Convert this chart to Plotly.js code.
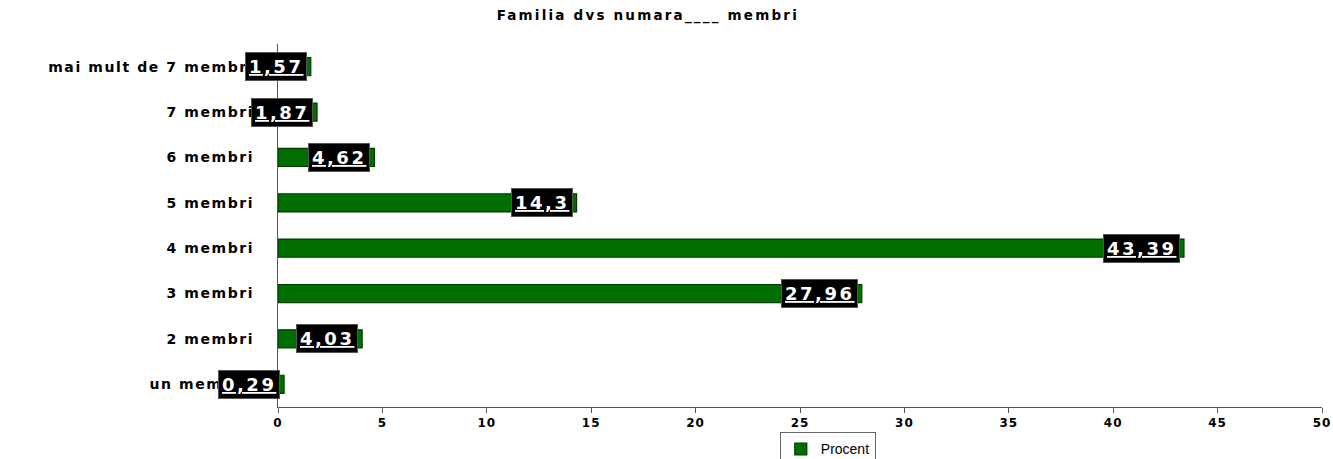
<!DOCTYPE html>
<html>
<head>
<meta charset="utf-8">
<script src="https://cdn.plot.ly/plotly-3.0.1.min.js"></script>
<style>
html,body{margin:0;padding:0;background:#fff;}
#chart{width:1333px;height:459px;}
text.gtitle{letter-spacing:2.2px;}
.ytick text{letter-spacing:1.6px;}
.xtick text{letter-spacing:1px;}
text.annotation-text{letter-spacing:2.5px;}
</style>
</head>
<body>
<div id="chart"></div>
<script>
var categories = ["un membru", "2 membri", "3 membri", "4 membri", "5 membri", "6 membri", "7 membri", "mai mult de 7 membri"];
var procent = [0.29, 4.03, 27.96, 43.39, 14.3, 4.62, 1.87, 1.57];
var valueLabels = ["0,29", "4,03", "27,96", "43,39", "14,3", "4,62", "1,87", "1,57"];
var xTicks = [0, 5, 10, 15, 20, 25, 30, 35, 40, 45, 50];

var FONT = "DejaVu Sans, Verdana, sans-serif";

var trace = {
  type: "bar",
  orientation: "h",
  name: "Procent",
  y: categories,
  x: procent,
  marker: {color: "#006f00", line: {color: "#003a00", width: 1.2}},
  hoverinfo: "x+y"
};

var annotations = categories.map(function (c, i) {
  return {
    x: procent[i], y: c, xref: "x", yref: "y",
    xanchor: "right", yanchor: "middle", xshift: -4,
    text: "<u>" + valueLabels[i] + "</u>",
    showarrow: false,
    bgcolor: "#000000", bordercolor: "#555555", borderwidth: 1,
    borderpad: 3,
    font: {family: FONT, size: 18, color: "#ffffff", weight: "bold"}
  };
});

var layout = {
  width: 1333, height: 459,
  margin: {l: 278, r: 11, t: 44, b: 52},
  paper_bgcolor: "#ffffff", plot_bgcolor: "#ffffff",
  bargap: 0.6,
  showlegend: true,
  title: {
    text: "Familia dvs numara____ membri",
    x: 0.486, xanchor: "center", y: 0.967, yanchor: "middle",
    font: {family: FONT, size: 13.5, color: "#000", weight: "bold"}
  },
  xaxis: {
    range: [0, 50],
    tickvals: xTicks,
    ticktext: xTicks.map(String),
    showgrid: false, zeroline: false,
    showline: true, linecolor: "#555", linewidth: 1,
    ticks: "outside", ticklen: 5, tickcolor: "#555",
    tickfont: {family: FONT, size: 12, color: "#000", weight: "bold"},
    fixedrange: true
  },
  yaxis: {
    type: "category",
    categoryorder: "array", categoryarray: categories,
    showgrid: false, zeroline: false,
    showline: true, linecolor: "#555", linewidth: 1,
    ticks: "", ticklabelstandoff: 20,
    tickfont: {family: FONT, size: 14, color: "#000", weight: "bold"},
    fixedrange: true
  },
  legend: {
    orientation: "h",
    xref: "container", yref: "container",
    x: 0.621, xanchor: "center",
    y: 0.058, yanchor: "top",
    bordercolor: "#666", borderwidth: 1,
    font: {family: "Liberation Sans, Arial, sans-serif", size: 14, color: "#000"},
    itemwidth: 30
  },
  annotations: annotations
};

Plotly.newPlot("chart", [trace], layout, {displayModeBar: false, staticPlot: true});
</script>
</body>
</html>
